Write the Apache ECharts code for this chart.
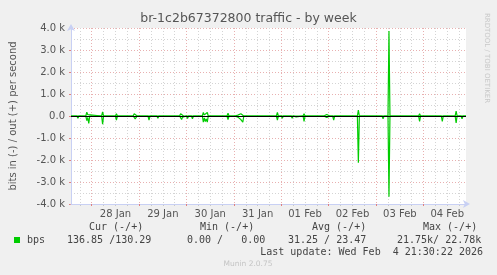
<!DOCTYPE html>
<html>
<head>
<meta charset="utf-8">
<script src="https://cdn.jsdelivr.net/npm/echarts@6/dist/echarts.min.js"></script>
<style>
html,body{margin:0;padding:0;background:#F0F0F0;}
#chart{width:497px;height:275px;}
</style>
</head>
<body>
<div id="chart"></div>
<script>
// ---- data (30-minute samples; in = plotted negative) ----
const startSlot = [2026, 0, 27, 13, 30];
const slotCount = 401;            // 13:30 Jan 27 .. 21:30 Feb 4
const slotMinutes = 30;
const monthNames = ['Jan', 'Feb'];

const sampleTimes = [
 '01-27 13:30','01-27 16:30','01-27 17:00','01-27 17:30','01-27 21:00','01-27 21:30','01-27 22:00','01-27 22:30','01-27 23:00',
 '01-28 05:00','01-28 05:30','01-28 06:00','01-28 12:00','01-28 12:30','01-28 13:00','01-28 15:30','01-28 16:00','01-28 16:30',
 '01-28 21:00','01-28 21:30','01-28 22:00','01-28 22:30','01-28 23:00',
 '01-29 04:30','01-29 05:00','01-29 05:30','01-29 09:00','01-29 09:30','01-29 10:00','01-29 14:00','01-29 14:30','01-29 15:00',
 '01-29 18:00','01-29 18:30','01-29 19:00','01-29 20:30','01-29 21:00','01-29 21:30','01-29 22:00','01-29 22:30',
 '01-30 00:00','01-30 00:30','01-30 01:00','01-30 02:30','01-30 03:00','01-30 03:30','01-30 05:00','01-30 05:30','01-30 06:00',
 '01-30 08:00','01-30 08:30','01-30 09:00','01-30 09:30','01-30 10:00','01-30 10:30','01-30 11:00','01-30 20:30','01-30 21:00','01-30 21:30',
 '01-31 00:30','01-31 01:00','01-31 01:30','01-31 02:00','01-31 02:30','01-31 03:00','01-31 03:30','01-31 04:00','01-31 04:30','01-31 05:00',
 '01-31 12:00','01-31 12:30','01-31 13:00','01-31 15:00','01-31 15:30','01-31 16:00','01-31 21:30','01-31 22:00','01-31 22:30',
 '02-01 00:00','02-01 00:30','02-01 01:00','02-01 05:00','02-01 05:30','02-01 06:00','02-01 07:00','02-01 07:30','02-01 08:00',
 '02-01 11:00','02-01 11:30','02-01 12:00','02-01 18:30','02-01 19:00','02-01 19:30',
 '02-01 21:30','02-01 22:00','02-01 22:30','02-01 23:00','02-01 23:30','02-02 00:00','02-02 00:30',
 '02-02 02:00','02-02 02:30','02-02 03:00','02-02 10:30','02-02 11:00','02-02 11:30','02-02 13:00','02-02 13:30','02-02 14:00',
 '02-02 14:30','02-02 15:00','02-02 15:30','02-02 21:00','02-02 21:30','02-02 22:00','02-02 23:00','02-02 23:30','02-03 00:00',
 '02-03 01:30','02-03 02:00','02-03 02:30','02-03 03:00','02-03 03:30','02-03 04:00','02-03 06:00','02-03 06:30','02-03 07:00',
 '02-03 13:30','02-03 14:00','02-03 14:30','02-03 15:00','02-03 21:30','02-03 22:00','02-03 22:30',
 '02-04 02:30','02-04 03:00','02-04 03:30','02-04 05:30','02-04 06:00','02-04 06:30','02-04 09:00','02-04 09:30','02-04 10:00',
 '02-04 12:30','02-04 13:00','02-04 13:30','02-04 16:00','02-04 16:30','02-04 17:00','02-04 19:00','02-04 19:30','02-04 20:00',
 '02-04 20:30','02-04 21:00','02-04 21:30'
];
const outBps = [
 0,0,40,0,0,170,60,140,0,
 0,190,0,0,100,0,0,30,0,
 0,100,50,70,0,
 0,40,0,0,50,0,0,40,0,
 0,30,0,0,100,70,90,0,
 0,50,0,0,40,0,0,30,0,
 0,160,50,140,70,160,0,0,130,0,
 0,70,0,40,100,50,100,70,30,0,
 0,30,0,0,0,0,0,160,0,
 0,0,0,0,30,0,0,50,0,
 0,100,0,0,50,0,
 0,70,50,70,30,60,0,
 0,30,0,0,30,0,0,70,0,
 0,270,0,0,70,0,0,50,0,
 0,40,0,0,40,0,0,3860,0,
 0,40,0,0,0,100,0,
 0,30,0,0,50,0,0,30,0,
 0,40,0,0,220,0,0,40,0,
 0,30,0
];
const inBps = [
 0,0,-100,0,0,-210,-70,-340,0,
 0,-370,0,0,-190,0,0,-40,0,
 0,-90,-130,-70,0,
 0,-190,0,0,-100,0,0,-70,0,
 0,-60,0,0,-70,-160,-50,0,
 0,-110,0,0,-130,0,0,-70,0,
 0,-280,-90,-250,-130,-280,0,0,-160,0,
 0,-70,0,-50,-130,-70,-160,-210,-280,0,
 0,-90,0,0,-50,0,0,-190,0,
 0,-100,0,0,-100,0,0,-40,0,
 0,-250,0,0,0,0,
 0,-70,-30,-70,-50,-70,0,
 0,-190,0,0,-70,0,0,-70,0,
 0,-2120,0,0,-70,0,0,-70,0,
 0,-50,0,0,-130,0,0,-3670,0,
 0,-70,-40,0,0,-250,0,
 0,-70,0,0,0,0,0,-250,0,
 0,-70,0,0,-310,0,0,-130,0,
 0,-70,0
];

const yTicks = [-4000, -3000, -2000, -1000, 0, 1000, 2000, 3000, 4000];
const legendHeaders = ['Cur (-/+)', 'Min (-/+)', 'Avg (-/+)', 'Max (-/+)'];
const legendValues = ['136.85 /130.29', '0.00 /   0.00', '31.25 / 23.47', '21.75k/ 22.78k'];
const legendName = 'bps';
const lastUpdate = 'Last update: Wed Feb  4 21:30:22 2026';

// ---- build category slots ----
function pad(n){ return (n < 10 ? '0' : '') + n; }
const t0 = new Date(startSlot[0], startSlot[1], startSlot[2], startSlot[3], startSlot[4]).getTime();
const categories = [];
for (let i = 0; i < slotCount; i++) {
  const d = new Date(t0 + i * slotMinutes * 60000);
  categories.push(pad(d.getMonth() + 1) + '-' + pad(d.getDate()) + ' ' + pad(d.getHours()) + ':' + pad(d.getMinutes()));
}
const outData = sampleTimes.map((t, i) => [t, outBps[i]]);
const inData = sampleTimes.map((t, i) => [t, inBps[i]]);

const FONT = 'DejaVu Sans';
const MONO = 'DejaVu Sans Mono';
const MGRID = '#e8b0b0';
const GRID = '#d4d4d4';
const AXIS = '#c8d0f4';

const isMidnight = (i, v) => v.endsWith('00:00');
const isSixHour = (i, v) => /(06|12|18):00$/.test(v);
const isNoon = (i, v) => v.endsWith('12:00');

const chart = echarts.init(document.getElementById('chart'), null, {renderer: 'canvas'});

const graphics = [];
const headerX = [89, 200, 312, 423];
const valueX = [67, 187, 288, 397];
legendHeaders.forEach((h, i) => graphics.push({type: 'text', x: headerX[i], y: 227,
  style: {text: h, font: '10px "' + MONO + '"', fill: '#444', textAlign: 'left', textVerticalAlign: 'middle'}}));
legendValues.forEach((v, i) => graphics.push({type: 'text', x: valueX[i], y: 240,
  style: {text: v, font: '10px "' + MONO + '"', fill: '#444', textAlign: 'left', textVerticalAlign: 'middle'}}));
graphics.push({type: 'rect', shape: {x: 14, y: 237, width: 6, height: 6}, style: {fill: '#00CC00'}});
graphics.push({type: 'text', x: 27, y: 240, style: {text: legendName, font: '10px "' + MONO + '"', fill: '#444', textAlign: 'left', textVerticalAlign: 'middle'}});
graphics.push({type: 'text', x: 483, y: 252, style: {text: lastUpdate, font: '10px "' + MONO + '"', fill: '#444', textAlign: 'right', textVerticalAlign: 'middle'}});
graphics.push({type: 'text', x: 248, y: 264, style: {text: 'Munin 2.0.75', font: '7.5px "' + FONT + '"', fill: '#c4c4c4', textAlign: 'center', textVerticalAlign: 'middle'}});
graphics.push({type: 'text', x: 487, y: 58, rotation: -Math.PI / 2, style: {text: 'RRDTOOL / TOBI OETIKER', font: '7px "' + FONT + '"', fill: '#c8c8c8', textAlign: 'center', textVerticalAlign: 'middle'}});

chart.setOption({
  animation: false,
  backgroundColor: '#F0F0F0',
  title: {
    text: 'br-1c2b67372800 traffic - by week',
    left: 'center', top: 12, padding: 0,
    textStyle: {fontFamily: FONT, fontSize: 12.5, fontWeight: 'normal', color: '#555'}
  },
  grid: {left: 66, right: 31, top: 28, bottom: 71, show: true, backgroundColor: '#FFFFFF', borderWidth: 0, containLabel: false},
  xAxis: [
    {
      type: 'category', data: categories, boundaryGap: false, position: 'bottom',
      axisLine: {show: true, onZero: false, lineStyle: {color: AXIS, width: 1}, symbol: ['none', 'arrow'], symbolSize: [6, 7], symbolOffset: [0, 4]},
      axisTick: {show: true, interval: isMidnight, length: 2, lineStyle: {color: '#e08080'}},
      axisLabel: {interval: isNoon, margin: 5, color: '#555', fontFamily: FONT, fontSize: 10,
        formatter: v => v.slice(3, 5) + ' ' + monthNames[parseInt(v.slice(0, 2), 10) - 1]},
      splitLine: {show: true, interval: isMidnight, lineStyle: {color: MGRID, type: [1, 2], width: 1}},
      z: 3
    },
    {
      type: 'category', data: categories, boundaryGap: false, position: 'bottom',
      axisLine: {show: false, onZero: false}, axisLabel: {show: false},
      axisTick: {show: true, interval: isSixHour, length: 2, lineStyle: {color: '#c8c8c8'}},
      splitLine: {show: true, interval: isSixHour, lineStyle: {color: GRID, type: [1, 2], width: 1}}
    }
  ],
  yAxis: {
    type: 'value', min: yTicks[0], max: yTicks[yTicks.length - 1], interval: 1000,
    name: 'bits in (-) / out (+) per second', nameLocation: 'middle', nameGap: 53,
    nameTextStyle: {fontFamily: FONT, fontSize: 10, color: '#555'},
    axisLine: {show: true, onZero: false, lineStyle: {color: AXIS, width: 1}, symbol: ['none', 'arrow'], symbolSize: [6, 7], symbolOffset: [0, 4]},
    axisTick: {show: true, length: 2, lineStyle: {color: '#e08080'}},
    minorTick: {show: false, splitNumber: 2},
    axisLabel: {margin: 6, color: '#555', fontFamily: FONT, fontSize: 10,
      formatter: v => v === 0 ? '0.0' : (v / 1000).toFixed(1) + ' k'},
    splitLine: {show: true, lineStyle: {color: MGRID, type: [1, 2], width: 1}},
    minorSplitLine: {show: true, lineStyle: {color: GRID, type: [1, 2], width: 1}}
  },
  series: [
    {
      name: legendName, type: 'line', xAxisIndex: 0, data: outData, showSymbol: false, symbol: 'none',
      lineStyle: {color: '#00CC00', width: 1.2}, z: 4
    },
    {
      name: legendName, type: 'line', xAxisIndex: 0, data: inData, showSymbol: false, symbol: 'none',
      lineStyle: {color: '#00CC00', width: 1.2}, z: 4,
      markLine: {silent: true, symbol: 'none', label: {show: false}, animation: false,
        lineStyle: {color: '#000', width: 1, type: 'solid'}, data: [{yAxis: 0}]}
    }
  ],
  graphic: graphics
});
</script>
</body>
</html>
